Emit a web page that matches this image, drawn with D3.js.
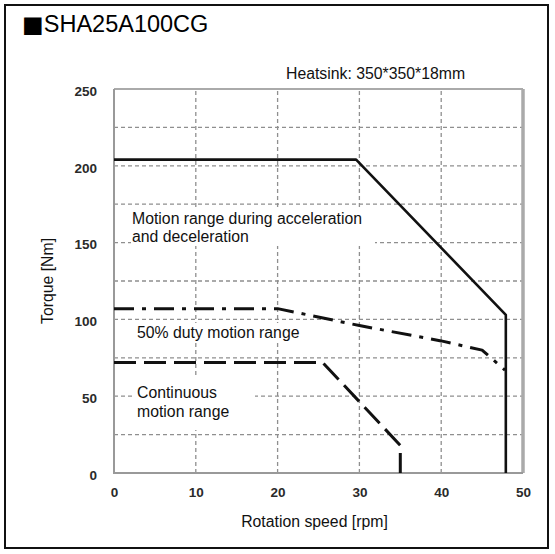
<!DOCTYPE html>
<html><head><meta charset="utf-8">
<script src="https://cdn.jsdelivr.net/npm/d3@7"></script>
<style>
html,body{margin:0;padding:0;background:#fff;}
svg{display:block;}
text{font-family:"Liberation Sans",Arial,sans-serif;}
</style></head>
<body>
<svg id="chart" width="555" height="554"></svg>
<script>
// ---- data ----
const titleMark = "■";
const title = "SHA25A100CG";
const note = "Heatsink: 350*350*18mm";
const xLabel = "Rotation speed [rpm]";
const yLabel = "Torque [Nm]";
const xTicks = [0, 10, 20, 30, 40, 50];
const yTicks = [0, 50, 100, 150, 200, 250];
const xGrid = [10, 20, 30, 40];
const yGrid = [25, 50, 75, 100, 125, 150, 175, 200, 225];

// acceleration/deceleration range (solid)
const accelSpeed  = [0, 29.6, 47.9, 47.9];
const accelTorque = [204, 204, 103, 0];
// 50% duty range (dash-dot)
const dutySpeed  = [0, 20, 30, 40, 45, 47.8];
const dutyTorque = [107, 107, 96, 86, 80, 67];
// continuous range (dashed)
const contSpeed  = [0, 25.5, 35, 35];
const contTorque = [72, 72, 18, 0];

const regionLabels = [
  ["Motion range during acceleration", "and deceleration"],
  ["50% duty motion range"],
  ["Continuous", "motion range"]
];

// ---- drawing ----
const svg = d3.select("#chart");
const x = d3.scaleLinear().domain([0, 50]).range([114, 523]);
const y = d3.scaleLinear().domain([0, 250]).range([473, 89]);

// outer frame
svg.append("rect").attr("x", 5).attr("y", 5).attr("width", 543).attr("height", 543)
  .attr("fill", "#fff").attr("stroke", "#111").attr("stroke-width", 2);

// title
const tt = svg.append("text").attr("x", 22).attr("y", 32).attr("font-size", 23.5).attr("fill", "#000");
tt.append("tspan").attr("font-size", 36).attr("dy", 4.5).text(titleMark);
tt.append("tspan").attr("font-size", 23.5).attr("dy", -4.5).text(title);
svg.append("text").attr("x", 286).attr("y", 79).attr("font-size", 15.8).attr("fill", "#111").text(note);

// grid
const gridColor = "#8f8f8f";
svg.append("g").selectAll("line").data(yGrid).join("line")
  .attr("x1", x(0)).attr("x2", x(50)).attr("y1", d => y(d)).attr("y2", d => y(d))
  .attr("stroke", gridColor).attr("stroke-width", 1.3).attr("stroke-dasharray", "4,3");
svg.append("g").selectAll("line").data(xGrid).join("line")
  .attr("y1", y(0)).attr("y2", y(250)).attr("x1", d => x(d)).attr("x2", d => x(d))
  .attr("stroke", gridColor).attr("stroke-width", 1.3).attr("stroke-dasharray", "4,3");

// white label boxes
const boxes = [
  {x: 131, y: 207, w: 244, h: 39},
  {x: 133, y: 323, w: 175, h: 20},
  {x: 135, y: 377, w: 120, h: 53}
];
svg.append("g").selectAll("rect").data(boxes).join("rect")
  .attr("x", d => d.x).attr("y", d => d.y).attr("width", d => d.w).attr("height", d => d.h)
  .attr("fill", "#fff");

// plot frame
svg.append("path")
  .attr("d", `M${x(0)},${y(250)}H${x(50)}`)
  .attr("stroke", "#aaa").attr("stroke-width", 2).attr("fill", "none");
svg.append("path")
  .attr("d", `M${x(50)},${y(250)}V${y(0)}`)
  .attr("stroke", "#aaa").attr("stroke-width", 3.5).attr("fill", "none");
svg.append("path")
  .attr("d", `M${x(0)},${y(250)}V${y(0)}H${x(50)}`)
  .attr("stroke", "#999").attr("stroke-width", 2).attr("fill", "none");

// region labels
const labelPos = [{x: 132, y: 223.5}, {x: 137, y: 338}, {x: 137, y: 398}];
regionLabels.forEach((lines, i) => {
  const t = svg.append("text").attr("font-size", 15.8).attr("fill", "#111");
  lines.forEach((s, j) => {
    t.append("tspan").attr("x", labelPos[i].x).attr("y", labelPos[i].y + j * 18.5).text(s);
  });
});

// curves
const line = d3.line().x(d => x(d[0])).y(d => y(d[1]));
const series = [
  {sx: accelSpeed, sy: accelTorque, dash: null, w: 2.6},
  {sx: dutySpeed, sy: dutyTorque, dash: "20,8,4,8", w: 3},
  {sx: contSpeed, sy: contTorque, dash: "22,8", w: 3}
];
series.forEach(s => {
  svg.append("path").datum(s.sx.map((v, i) => [v, s.sy[i]]))
    .attr("d", line).attr("fill", "none").attr("stroke", "#111")
    .attr("stroke-width", s.w).attr("stroke-dasharray", s.dash)
    .attr("stroke-linejoin", "round");
});

// axes (labels only)
const xAxis = svg.append("g").attr("transform", `translate(0,${y(0) + 14})`)
  .call(d3.axisBottom(x).tickValues(xTicks).tickSize(0).tickPadding(0));
const yAxis = svg.append("g").attr("transform", `translate(${x(0) - 17},2)`)
  .call(d3.axisLeft(y).tickValues(yTicks).tickSize(0).tickPadding(0));
[xAxis, yAxis].forEach(a => {
  a.select(".domain").remove();
  a.selectAll("text").attr("font-family", "DejaVu Sans").attr("font-weight", "bold")
    .attr("font-size", 13.5).attr("fill", "#2a2a2a");
});

// axis titles
svg.append("text").attr("x", (x(0) + x(50)) / 2 - 4).attr("y", 527).attr("text-anchor", "middle")
  .attr("font-size", 15.8).attr("fill", "#111").text(xLabel);
svg.append("text").attr("transform", `translate(53,${(y(0) + y(250)) / 2}) rotate(-90)`)
  .attr("text-anchor", "middle").attr("font-size", 15.8).attr("fill", "#111").text(yLabel);
</script>
</body></html>
